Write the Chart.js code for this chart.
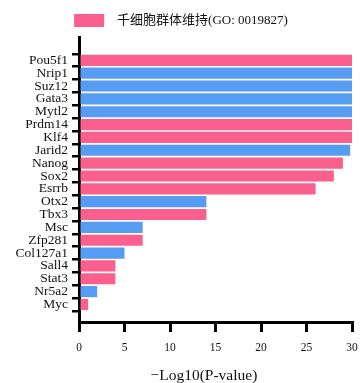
<!DOCTYPE html>
<html>
<head>
<meta charset="utf-8">
<script src="https://cdn.jsdelivr.net/npm/chart.js@4"></script>
<style>
  html, body { margin: 0; padding: 0; background: #ffffff; }
  #wrap { width: 362px; height: 383px; position: relative; }
</style>
</head>
<body>
<div id="wrap"><canvas id="chart"></canvas></div>
<script>
// Transcription factors, top to bottom
const genes = ['Pou5f1', 'Nrip1', 'Suz12', 'Gata3', 'Mytl2', 'Prdm14', 'Klf4', 'Jarid2',
  'Nanog', 'Sox2', 'Esrrb', 'Otx2', 'Tbx3', 'Msc', 'Zfp281', 'Col127a1', 'Sall4',
  'Stat3', 'Nr5a2', 'Myc'];
// -log10(P-value) for each gene
const logP = [30, 30, 30, 30, 30, 30, 30, 29.8, 29, 28, 26, 14, 14, 7, 7, 5, 4, 4, 2, 1];
// 1 = annotated to stem cell population maintenance (GO:0019827)
const inGoTerm = [1, 0, 0, 0, 0, 1, 1, 0, 1, 1, 1, 0, 1, 0, 1, 0, 1, 1, 0, 1];
const xTicks = [0, 5, 10, 15, 20, 25, 30];
const goLabel = '千细胞群体维持(GO: 0019827)';
const otherLabel = '其他';
const xTitle = '−Log10(P-value)';

const PINK = '#fa5f8e';
const BLUE = '#579cf3';
const SERIF = "'Liberation Serif', 'Times New Roman', serif";

function pointsFor(flag) {
  const pts = [];
  genes.forEach((g, i) => {
    if (inGoTerm[i] === flag) pts.push({ x: logP[i], y: i });
  });
  return pts;
}

new Chart(document.getElementById('chart'), {
  type: 'bar',
  data: {
    datasets: [
      { label: goLabel, data: pointsFor(1), backgroundColor: PINK, borderWidth: 0 },
      { label: otherLabel, data: pointsFor(0), backgroundColor: BLUE, borderWidth: 0 }
    ]
  },
  options: {
    indexAxis: 'y',
    responsive: true,
    maintainAspectRatio: false,
    animation: false,
    devicePixelRatio: 1,
    grouped: false,
    barPercentage: 0.87,
    categoryPercentage: 1,
    layout: { padding: 0 },
    plugins: {
      tooltip: { enabled: false },
      legend: {
        position: 'top',
        labels: {
          // only the GO-term series gets a legend entry; a small lead gap before its text
          filter: (item) => item.datasetIndex === 0,
          generateLabels: (chart) => Chart.defaults.plugins.legend.labels.generateLabels(chart)
            .map(item => Object.assign(item, { text: '\u2002' + item.text })),
          boxWidth: 30,
          boxHeight: 13,
          padding: 12,
          color: '#111111',
          font: { family: "'Liberation Serif', 'Noto Sans CJK SC', serif", size: 13 }
        }
      }
    },
    scales: {
      x: {
        type: 'linear',
        min: 0,
        max: 30,
        afterBuildTicks: (scale) => { scale.ticks = xTicks.map(v => ({ value: v })); },
        afterFit: (scale) => { scale.height = 61; scale.paddingLeft = 0; scale.paddingRight = 10; },
        border: { display: true, color: '#000000', width: 3 },
        grid: { drawOnChartArea: false, drawTicks: true, tickLength: 10, lineWidth: 3, color: '#000000' },
        ticks: { color: '#111111', padding: 9.5, font: { family: SERIF, size: 11.5 } },
        title: {
          display: true,
          text: xTitle + '\u2003\u2002',
          color: '#111111',
          padding: { top: 13.7, bottom: 0 },
          font: { family: SERIF, size: 15.5, lineHeight: 0.9 }
        }
      },
      y: {
        type: 'linear',
        reverse: true,
        min: -1.26,
        max: 19.81,
        afterBuildTicks: (scale) => { scale.ticks = genes.map((g, i) => ({ value: i })); },
        afterFit: (scale) => { scale.width = 79; scale.paddingTop = 37; scale.paddingBottom = 0; },
        border: { display: true, color: '#000000', width: 3 },
        grid: { drawOnChartArea: false, drawTicks: true, tickLength: 7, lineWidth: 2.5, color: '#000000' },
        ticks: {
          autoSkip: false,
          color: '#111111',
          padding: 4,
          font: { family: SERIF, size: 13.5 },
          callback: (v) => genes[v]
        }
      }
    }
  }
});
</script>
</body>
</html>
